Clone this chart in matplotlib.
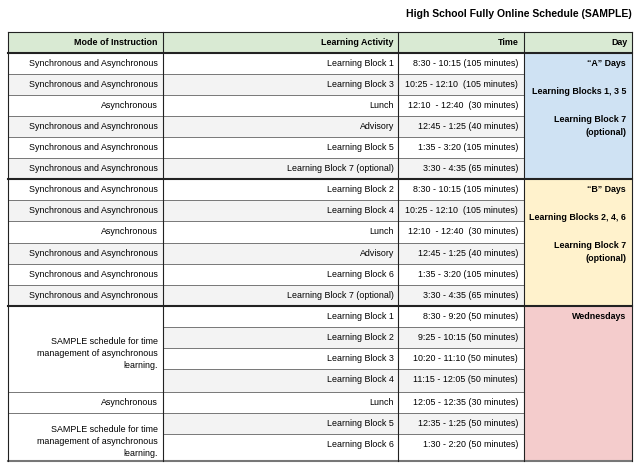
import matplotlib.pyplot as plt
from matplotlib.patches import Rectangle

plt.rcParams['font.family'] = ['Liberation Sans', 'DejaVu Sans']

# Data (columns run right-to-left in the picture: Day, Time, Activity, Mode)
title = "High School Fully Online Schedule (SAMPLE)"
headers = ["Mode of Instruction", "Learning Activity", "Time", "Day"]

ab_times = ["8:30 - 10:15 (105 minutes)", "10:25 - 12:10  (105 minutes)",
            "12:10  - 12:40  (30 minutes)", "12:45 - 1:25 (40 minutes)",
            "1:35 - 3:20 (105 minutes)", "3:30 - 4:35 (65 minutes)"]
a_activities = ["Learning Block 1", "Learning Block 3", "Lunch", "Advisory",
                "Learning Block 5", "Learning Block 7 (optional)"]
b_activities = ["Learning Block 2", "Learning Block 4", "Lunch", "Advisory",
                "Learning Block 6", "Learning Block 7 (optional)"]
ab_modes = [("Synchronous and Asynchronous", 1), ("Synchronous and Asynchronous", 1),
            ("Asynchronous", 1), ("Synchronous and Asynchronous", 1),
            ("Synchronous and Asynchronous", 1), ("Synchronous and Asynchronous", 1)]

wed_times = ["8:30 - 9:20 (50 minutes)", "9:25 - 10:15 (50 minutes)",
             "10:20 - 11:10 (50 minutes)", "11:15 - 12:05 (50 minutes)",
             "12:05 - 12:35 (30 minutes)", "12:35 - 1:25 (50 minutes)",
             "1:30 - 2:20 (50 minutes)"]
wed_activities = ["Learning Block 1", "Learning Block 2", "Learning Block 3",
                  "Learning Block 4", "Lunch", "Learning Block 5", "Learning Block 6"]
sample_note = "SAMPLE schedule for time\nmanagement of asynchronous\nlearning."
wed_modes = [(sample_note, 4), ("Asynchronous", 1), (sample_note, 2)]

day_labels = [["\u201cA\u201d Days", "Learning Blocks 1, 3 5", "Learning Block 7\n(optional)"],
              ["\u201cB\u201d Days", "Learning Blocks 2, 4, 6", "Learning Block 7\n(optional)"],
              ["Wednesdays"]]
day_colors = ['#cfe2f3', '#fff2cc', '#f4cccc']

groups = [
    (ab_times, a_activities, ab_modes, [21] * 6),
    (ab_times, b_activities, ab_modes, [21.2] * 6),
    (wed_times, wed_activities, wed_modes, [21, 21, 21, 23, 21, 21, 27]),
]

# layout in pixels
col_edges = [8, 163, 398, 524, 632]
header_top, header_h = 32, 21
fs = 6.4
shade = '#f3f3f3'
thin = dict(color='#777777', lw=0.7)

fig = plt.figure(figsize=(6.4, 4.7), dpi=100)
ax = fig.add_axes([0, 0, 1, 1])
ax.set_xlim(0, 640)
ax.set_ylim(470, 0)
ax.axis('off')

ax.text(col_edges[-1], 14, title, ha='right', va='center', fontsize=7.5, fontweight='bold')

# header
ax.add_patch(Rectangle((col_edges[0], header_top), col_edges[-1] - col_edges[0], header_h,
                       facecolor='#d9ead3', edgecolor='none'))
for i, h in enumerate(headers):
    ax.text(col_edges[i + 1] - 5, header_top + header_h / 2, h, ha='right', va='center',
            fontsize=fs, fontweight='bold')

y = header_top + header_h
for g, (times, acts, modes, heights) in enumerate(groups):
    g_top = y
    tops = [g_top + sum(heights[:i]) for i in range(len(heights))]
    g_bot = g_top + sum(heights)

    # time + activity cells
    for i, (t, a) in enumerate(zip(times, acts)):
        top, h = tops[i], heights[i]
        fc = shade if i % 2 else 'white'
        ax.add_patch(Rectangle((col_edges[1], top), col_edges[3] - col_edges[1], h,
                               facecolor=fc, edgecolor='none'))
        ax.text(col_edges[3] - 6, top + 10.5, t, ha='right', va='center', fontsize=fs)
        ax.text(col_edges[2] - 4, top + 10.5, a, ha='right', va='center', fontsize=fs)
        if i < len(times) - 1:
            ax.plot([col_edges[1], col_edges[3]], [top + h, top + h], **thin)

    # mode cells (some span several rows)
    r = 0
    for text, span in modes:
        top = tops[r]
        h = sum(heights[r:r + span])
        fc = shade if (span == 1 and r % 2) else 'white'
        ax.add_patch(Rectangle((col_edges[0], top), col_edges[1] - col_edges[0], h,
                               facecolor=fc, edgecolor='none'))
        if span == 1:
            ax.text(col_edges[1] - 5, top + 10.5, text, ha='right', va='center', fontsize=fs)
        else:
            ax.text(col_edges[1] - 5, top + h / 2 + 4, text, ha='right', va='center',
                    fontsize=fs, linespacing=1.45)
        r += span
        if r < len(heights):
            ax.plot([col_edges[0], col_edges[1]], [top + h, top + h], **thin)

    # day cell
    ax.add_patch(Rectangle((col_edges[3], g_top), col_edges[4] - col_edges[3], g_bot - g_top,
                           facecolor=day_colors[g], edgecolor='none'))
    for p, para in enumerate(day_labels[g]):
        for j, line in enumerate(para.split('\n')):
            ax.text(col_edges[4] - 6, g_top + 10.5 + 28 * p + 13 * j, line, ha='right',
                    va='center', fontsize=fs, fontweight='bold')

    if g < len(groups) - 1:
        ax.plot([col_edges[0], col_edges[-1]], [g_bot, g_bot], color='#222222', lw=1.5)
    else:
        ax.plot([col_edges[0], col_edges[-1]], [g_bot, g_bot], color='#777777', lw=1.5)
    y = g_bot

# borders
ax.plot([col_edges[0], col_edges[-1]], [header_top, header_top], color='#222222', lw=0.8)
ax.plot([col_edges[0], col_edges[-1]], [header_top + header_h] * 2, color='#222222', lw=1.5)
for x in col_edges:
    ax.plot([x, x], [header_top, y], color='#222222', lw=0.8)

fig.savefig('out.png', dpi=100)
